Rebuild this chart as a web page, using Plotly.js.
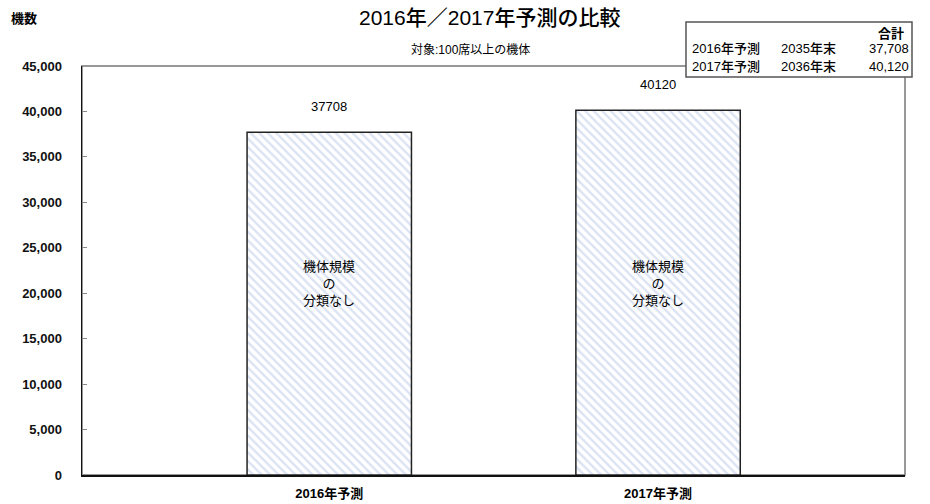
<!DOCTYPE html>
<html><head><meta charset="utf-8">
<script src="https://cdn.plot.ly/plotly-3.0.1.min.js"></script>
<style>body{margin:0;background:#fff}#c{width:930px;height:504px}</style>
</head><body><div id="c"></div>
<script>
const categories = ["2016年予測", "2017年予測"];
const values = [37708, 40120];
const tableRows = ["2016年予測", "2017年予測"];
const tableYears = ["2035年末", "2036年末"];
const tableTotals = ["37,708", "40,120"];
const innerLabel = "機体規模<br>の<br>分類なし";
const yTicks = [0, 5000, 10000, 15000, 20000, 25000, 30000, 35000, 40000, 45000];

const F = '"Liberation Sans", "Noto Sans CJK JP", sans-serif';
const L = 82, T = 66, B = 475, W = 823, H = 409;
const px = x => (x - L) / W;
const py = y => (B - y) / H;

const trace = {
  type: 'bar', x: [0, 1], y: values, width: 0.5,
  marker: {color: '#ffffff', line: {color: '#222', width: 1.5},
    pattern: {shape: '\\', fgcolor: '#dbe3f3', bgcolor: '#ffffff', size: 6, solidity: 0.4}},
  hoverinfo: 'none'
};

const ann = [];
function A(x, y, text, size, xanchor, extra) {
  ann.push(Object.assign({x: px(x), y: py(y), xref: 'paper', yref: 'paper', text: text, showarrow: false,
    xanchor: xanchor || 'center', yanchor: 'middle', font: {family: F, size: size, color: '#000'}}, extra || {}));
}
values.forEach((v, i) => {
  ann.push({x: i, y: v, xref: 'x', yref: 'y', text: String(v), showarrow: false, yshift: 26,
    xanchor: 'center', yanchor: 'middle', font: {family: F, size: 13, color: '#000'}});
  ann.push({x: i, y: py(283), xref: 'x', yref: 'paper', text: innerLabel, showarrow: false,
    xanchor: 'center', yanchor: 'middle', font: {family: F, size: 13, color: '#000'}});
});
A(489, 18, '2016年／2017年予測の比較', 21, 'center', {font: {family: F, size: 21, color: '#000', weight: 500}});
A(470, 50, '対象:100席以上の機体', 12, 'center');
A(9, 19, '<b>機数</b>', 13, 'left');
A(906, 33, '合計', 13, 'right', {font: {family: F, size: 13, color: '#000', weight: 600}});
tableRows.forEach((r, i) => {
  const yy = 49 + i * 18;
  A(690, yy, r, 13, 'left', {font: {family: F, size: 13, color: '#000', weight: 500}});
  A(779, yy, tableYears[i], 13, 'left', {font: {family: F, size: 13, color: '#000', weight: 500}});
  A(911, yy, tableTotals[i], 13, 'right');
});

const layout = {
  width: 930, height: 504,
  margin: {l: L, r: 930 - L - W, t: T, b: 504 - B},
  paper_bgcolor: '#fff', plot_bgcolor: '#fff',
  showlegend: false,
  xaxis: {range: [-0.752, 1.751], tickvals: [0, 1], ticktext: categories.map(c => '<b>' + c + '</b>'),
    showline: true, linecolor: '#111', linewidth: 1.5, ticks: '', showgrid: false,
    zeroline: false, fixedrange: true, tickfont: {family: F, size: 13, color: '#000'}, ticklabelstandoff: 6},
  yaxis: {range: [0, 45000], tickvals: yTicks, ticktext: yTicks.map(v => '<b>' + v.toLocaleString('en-US') + '</b>'),
    showline: true, linecolor: '#111', linewidth: 1.5,
    ticks: 'inside', ticklen: 5, tickcolor: '#888', showgrid: false, zeroline: false, fixedrange: true,
    tickfont: {family: F, size: 13, color: '#111'}, ticklabelstandoff: 16},
  annotations: ann,
  shapes: [
    {type: 'rect', xref: 'paper', yref: 'paper', x0: 0, x1: 1, y0: 0, y1: 1,
      line: {color: '#777', width: 1.5}, layer: 'below'},
    {type: 'rect', xref: 'paper', yref: 'paper',
      x0: px(686), x1: px(912), y0: py(77), y1: py(22),
      line: {color: '#555', width: 1.5}, fillcolor: '#fff', layer: 'above'}]
};

Plotly.newPlot('c', [trace], layout, {displayModeBar: false, staticPlot: true});
</script></body></html>
